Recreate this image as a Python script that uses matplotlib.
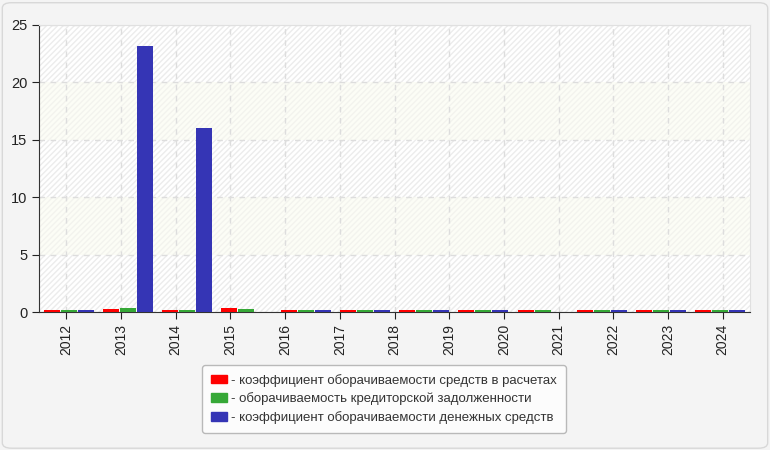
import numpy as np
import matplotlib
matplotlib.use('Agg')
import matplotlib.pyplot as plt
from matplotlib.patches import Patch, FancyBboxPatch

plt.rcParams['font.family'] = ['Liberation Sans', 'DejaVu Sans']

# labels on the x axis (13) - the bars come in 12 groups, as in the source chart
years = ['2012', '2013', '2014', '2015', '2016', '2017', '2018',
         '2019', '2020', '2021', '2022', '2023', '2024']

# values per bar group
receivables = [0.15, 0.22, 0.15, 0.37, 0.15, 0.15, 0.15, 0.15, 0.15, 0.15, 0.15, 0.15]
payables    = [0.15, 0.38, 0.15, 0.27, 0.15, 0.15, 0.15, 0.15, 0.15, 0.15, 0.15, 0.15]
cash        = [0.15, 23.2, 16.0, 0.0, 0.15, 0.15, 0.15, 0.15, 0.0, 0.15, 0.15, 0.15]

names = ['- коэффициент оборачиваемости средств в расчетах',
         '- оборачиваемость кредиторской задолженности',
         '- коэффициент оборачиваемости денежных средств']
colors = ['#ff0000', '#36a837', '#3535b5']

fig = plt.figure(figsize=(7.7, 4.5), dpi=100)
fig.patch.set_facecolor('#f4f4f4')
fig.patches.append(FancyBboxPatch((0.003, 0.004), 0.994, 0.99, boxstyle='round,pad=0,rounding_size=0.012',
                                  transform=fig.transFigure, facecolor='#f4f4f4',
                                  edgecolor='#d8d8d8', linewidth=1, zorder=-10))

ax = fig.add_axes([39/770, 1-312/450, 711/770, 287/450])
ax.set_facecolor('white')

ngroups = len(cash)
ax.set_xlim(0, ngroups)
ax.set_ylim(0, 25)

# faint striped / tinted bands
for lo in range(0, 25, 5):
    if (lo // 5) % 2 == 0:
        ax.axhspan(lo, lo + 5, facecolor='white', edgecolor='#ececec', hatch='//////', linewidth=0, zorder=0)
    else:
        ax.axhspan(lo, lo + 5, facecolor='#fcfdf6', edgecolor='#f3f3ee', hatch='//////', linewidth=0, zorder=0)

bw = 16/59.25
step = 17/59.25
x = np.arange(ngroups) + 0.5
for k, vals in enumerate([receivables, payables, cash]):
    ax.bar(x + (k - 1)*step, vals, width=bw, color=colors[k], zorder=4, linewidth=0)

# label positions spread across the axis
tick_pos = (np.arange(len(years)) + 0.5) * ngroups / len(years)
ax.set_xticks(tick_pos)
ax.set_xticklabels(years, rotation=90, fontsize=10, color='#222222')
ax.set_yticks([0, 5, 10, 15, 20, 25])
ax.tick_params(axis='y', labelsize=10.5, colors='#222222', length=5)
ax.tick_params(axis='x', length=5, colors='#222222')

ax.grid(True, color='#dddddd', linestyle=(0, (4, 4)), linewidth=1, zorder=1)
ax.set_axisbelow(True)

ax.spines['left'].set_color('#333333')
ax.spines['bottom'].set_color('#333333')
ax.spines['bottom'].set_zorder(3)
ax.spines['top'].set_color('#e0e0e0')
ax.spines['right'].set_color('#e0e0e0')

handles = [Patch(facecolor=c, edgecolor=c) for c in colors]
leg = fig.legend(handles, names, loc='center', bbox_to_anchor=(384/770, 1-399/450),
                 fontsize=9.5, frameon=True, fancybox=True, edgecolor='#aaaaaa',
                 handlelength=1.25, handleheight=0.65, handletextpad=0.3,
                 labelspacing=0.45, borderpad=0.65, borderaxespad=0)
leg.get_frame().set_facecolor('white')
leg.get_frame().set_linewidth(1)
for t in leg.get_texts():
    t.set_color('#333333')

plt.savefig('out.png', dpi=100, facecolor=fig.get_facecolor())
